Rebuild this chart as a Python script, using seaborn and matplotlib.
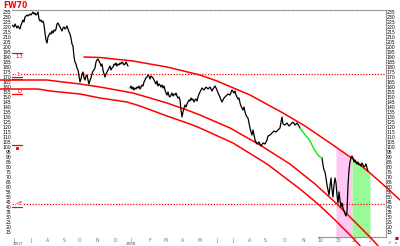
import numpy as np
import pandas as pd
import matplotlib
matplotlib.use("Agg")
import matplotlib.pyplot as plt
import seaborn as sns

# ---------------- data ----------------
title = "FW70"

seg_a_day = [0, 2, 3, 5, 6, 8, 9, 11, 12, 13, 15, 16, 18, 19] + list(range(21, 117))
seg_a_price = [222, 220, 223, 219, 221, 218, 222, 227, 225, 230, 232, 231, 233, 232,
               235, 233, 234, 232, 233, 235, 228, 226, 227, 225, 226, 222, 214, 207, 204, 210,
               212, 214, 213, 216, 214, 217, 216, 218, 223, 224, 222, 220, 218, 216, 219, 220,
               218, 219, 221, 218, 215, 213, 209, 203, 201, 190, 185, 183, 179, 177, 171, 165,
               168, 173, 175, 169, 167, 171, 172, 167, 163, 167, 169, 173, 176, 177, 179, 185,
               187, 188, 186, 184, 181, 183, 177, 173, 170, 173, 175, 177, 179, 181, 177, 179,
               180, 183, 182, 184, 181, 183, 182, 184, 183, 185, 184, 182, 183, 185, 183, 181]

seg_b_day = list(range(118, 189)) + [190, 192, 194, 196, 198, 200, 201, 203, 205, 206,
             208, 209, 210, 212, 214, 216, 218, 220, 222, 223, 224, 225, 226, 227, 228, 229,
             230, 231, 232, 233, 234, 235, 236, 238, 239, 240, 241, 243, 245, 247, 249, 251,
             253, 255, 256, 258, 260, 262, 264, 266, 268, 269, 270, 271, 273, 275, 277, 279,
             281, 283, 285, 287, 288]
seg_b_price = [159, 161, 158, 160, 157, 159, 158, 160, 159, 161,
               158, 160, 162, 161, 165, 167, 169, 170, 172, 171,
               168, 171, 170, 169, 167, 165, 163, 166, 161, 163,
               162, 160, 162, 159, 161, 157, 154, 152, 155, 151,
               150, 152, 154, 151, 153, 152, 154, 151, 149, 150,
               147, 137, 130, 135, 139, 142, 140, 143, 145, 147,
               146, 149, 147, 148, 145, 147, 148, 146, 150, 153, 155,
               159, 157, 160, 158, 160, 156, 158, 161, 157, 154,
               150, 147, 145, 149, 151, 153, 152, 157, 154, 156,
               152, 150, 148, 149, 144, 141, 139, 137, 140, 135,
               132, 130, 129, 119, 115, 112, 117, 107, 103, 105,
               101, 104, 103, 107, 111, 112, 114, 116, 115, 117,
               119, 125, 130, 123, 122, 124, 121, 123, 125, 122,
               124, 121, 119]

green_day = [288, 291, 294, 296, 298, 300, 302, 304, 306, 308, 310]
green_price = [119, 115, 111, 109, 106, 102, 98, 95, 92, 90, 89]

seg_c_day = list(range(310, 357))
seg_c_price = [89, 82, 77, 75, 69, 62, 57, 52, 61, 69,
               57, 50, 62, 69, 64, 52, 44, 55, 47, 40,
               44, 39, 36, 33, 31, 35, 62, 77, 85, 89,
               91, 89, 85, 87, 84, 83, 85, 82, 83, 81,
               84, 82, 80, 81, 83, 79, 76]

arc_top_day = [72, 88, 121, 155, 188, 205, 238, 271, 293, 321, 341, 358, 375, 388]
arc_top_price = [190, 189.5, 186, 180, 172, 166, 152, 134, 121, 102, 88, 74, 59, 47]
arc_mid_day = [-12, 35, 51, 68, 88, 121, 155, 175, 188, 218, 248, 278, 303, 325, 341, 358, 368]
arc_mid_price = [167, 167, 165, 163, 160, 154, 144, 137, 132, 119, 102, 83, 63, 43, 27, 10, -1]
arc_bot_day = [-12, 26, 38, 68, 88, 115, 128, 155, 178, 188, 221, 255, 288, 306, 323, 340, 350]
arc_bot_price = [158, 158, 156, 153, 149, 145, 141, 131, 123, 119, 104, 83, 58, 43, 27, 10, -1]

level_lines = [173, 43]            # red dotted levels
level_labels = ["1:", "<E"]
marker_levels = [194, 170, 168, 153, 102, 40]

pink_span = (324, 340)
green_span = (340, 358)

xtick_days = [2, 19, 36, 52, 68, 85, 103, 119, 138, 153, 171, 188, 205, 221, 238, 253,
              273, 291, 308, 326, 343, 358]
xtick_labels = ["J", "J", "A", "S", "O", "N", "D", "J", "F", "M", "A", "M",
                "J", "J", "A", "S", "O", "N", "10", "15", "22", "2"]
year_days = [6, 119]
year_labels = ["2007", "2008"]
ytick_vals = list(range(15, 236, 5))

# ---------------- frame ----------------
assert len(seg_a_day) == len(seg_a_price)
assert len(seg_b_day) == len(seg_b_price)
assert len(seg_c_day) == len(seg_c_price)

sns.set_theme(style="white")
plt.rcParams["font.family"] = ["DejaVu Sans"]

df = pd.concat([
    pd.DataFrame({"day": seg_a_day, "price": seg_a_price, "seg": "a"}),
    pd.DataFrame({"day": seg_b_day, "price": seg_b_price, "seg": "b"}),
    pd.DataFrame({"day": seg_c_day, "price": seg_c_price, "seg": "c"}),
])
gdf = pd.DataFrame({"day": green_day, "price": green_price})
arcs = pd.concat([
    pd.DataFrame({"day": arc_top_day, "price": arc_top_price, "arc": "top"}),
    pd.DataFrame({"day": arc_mid_day, "price": arc_mid_price, "arc": "mid"}),
    pd.DataFrame({"day": arc_bot_day, "price": arc_bot_price, "arc": "bot"}),
])

fig = plt.figure(figsize=(4, 2.46), dpi=100)
ax = fig.add_axes([0.03, 0.0366, 0.935, 0.9227])
ax.set_facecolor("white")

# shaded spans under the top arc
for (x0, x1), col in [(pink_span, "#ffc8f4"), (green_span, "#98fb98")]:
    xs = np.linspace(x0, x1, 40)
    top = np.interp(xs, arc_top_day, arc_top_price)
    ax.fill_between(xs, 10, top, color=col, lw=0, zorder=1)

for lvl in level_lines:
    ax.axhline(lvl, color="red", lw=0.9, ls=(0, (1, 1.3)), zorder=2)

sns.lineplot(data=arcs, x="day", y="price", units="arc", estimator=None, sort=False,
             color="red", lw=1.1, ax=ax, clip_on=False, zorder=3)
sns.lineplot(data=df, x="day", y="price", units="seg", estimator=None, sort=False,
             color="black", lw=0.9, ax=ax, zorder=4)
sns.lineplot(data=gdf, x="day", y="price", estimator=None, sort=False,
             color="#00ee00", lw=1.0, ax=ax, zorder=5)

# left red markers
for lvl in marker_levels:
    ax.plot([0, 10], [lvl, lvl], color="red", lw=0.9, clip_on=False, zorder=3)
ax.text(3, 191, "1.3", color="red", fontsize=3.5, va="center", ha="left")
ax.text(5, 156, "D", color="red", fontsize=3.5, va="center", ha="left")
ax.plot([5], [99], "s", color="red", ms=1.2)
for lvl, lab in zip(level_lines, level_labels):
    ax.text(4, lvl, lab, color="red", fontsize=3.5, va="center", ha="left",
            bbox=dict(fc="white", ec="none", pad=0.2))

ax.set_xlim(0, 374)
ax.set_ylim(10, 237)
ax.set_xticks(xtick_days)
ax.set_xticklabels(xtick_labels)
ax.set_yticks(ytick_vals)
ax.set_yticklabels([str(v) for v in ytick_vals])
ax.tick_params(axis="x", labelsize=3.3, colors="#707070", length=0, pad=0.6)
ax.tick_params(axis="y", labelsize=3.3, colors="black", length=0, pad=0.6,
               labelleft=True, labelright=True)
ax.set_xlabel("")
ax.set_ylabel("")

for d, lab in zip(year_days, year_labels):
    ax.annotate(lab, xy=(d, 0), xycoords=("data", "axes fraction"),
                xytext=(0, -5.2), textcoords="offset pixels",
                fontsize=3.0, color="#505050", ha="center", va="top")

ax.spines["left"].set_visible(False)
for s in ["top", "right", "bottom"]:
    ax.spines[s].set_color("#888888")
    ax.spines[s].set_linewidth(0.8)
    ax.spines[s].set_linestyle((0, (1, 1.3)))
ax.spines["bottom"].set_bounds(306, 374)

fig.text(3 / 400, 1 - 1.5 / 246, title, color="red", fontsize=5.5, fontweight="bold",
         va="top", ha="left")
fig.text(387 / 400, 1 - 241.5 / 246, "\u2713", color="green", fontsize=3.5, va="center")
fig.text(395 / 400, 1 - 238.5 / 246, "\u25a0", color="#cc0000", fontsize=3, va="center")
fig.text(395 / 400, 1 - 243 / 246, "c", color="blue", fontsize=3.2, va="center")

fig.savefig("out.png", dpi=100, facecolor="white")
